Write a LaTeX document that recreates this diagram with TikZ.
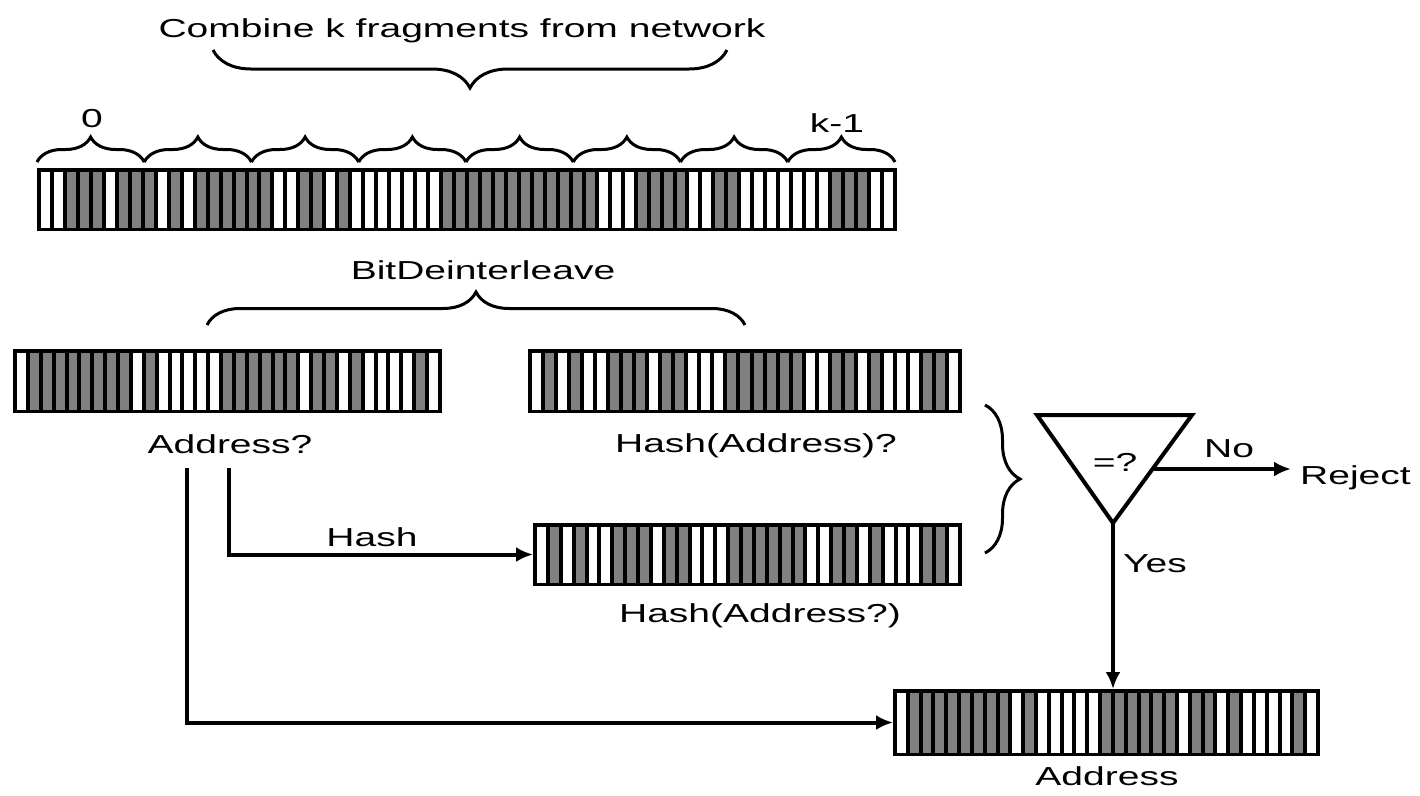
\documentclass[tikz,border=0pt]{standalone}
\usepackage{fontspec}
\newfontfamily\lblfont{Liberation Sans}[FakeStretch=1.5]
\usetikzlibrary{arrows.meta,decorations.pathreplacing,calc}

\definecolor{bitG}{HTML}{808080}
\definecolor{bitW}{HTML}{FFFFFF}

\tikzset{
  lbl/.style={font=\fontsize{26}{30}\lblfont, inner sep=0pt, anchor=base},
  stripframe/.style={fill=black, draw=none, inner sep=0pt, outer sep=0pt},
  conn/.style={line width=4pt, line cap=butt, line join=miter},
  arr/.style={conn, -{Latex[length=17pt,width=15pt]}},
  bracepath/.style={line width=3pt, decorate, decoration={brace, amplitude=#1}},
  tri/.style={line width=4pt, line join=miter},
}

% \bitstrip{name}{x0}{y0}{x1}{y1}{cells}{pattern}
\newcommand\bitstrip[7]{%
  \pgfmathsetmacro\stripw{#4-#2}%
  \pgfmathsetmacro\striph{#5-#3}%
  \pgfmathsetmacro\cellw{(#4-#2-4)/#6}%
  \node[stripframe, minimum width=\stripw pt, minimum height=\striph pt]
    (#1) at ({(#2+#4)/2},{(#3+#5)/2}) {};
  \foreach \c [count=\i] in {#7} {
    \pgfmathsetmacro\xa{#2+2+(\i-1)*\cellw+2}
    \pgfmathsetmacro\xb{#2+2+\i*\cellw-2}
    \fill[bit\c] (\xa,{#3+3.5}) rectangle (\xb,{#5-3.5});
  }%
}

\begin{document}
\begin{tikzpicture}[x=1pt, y=-1pt]
  \useasboundingbox (0,0) rectangle (1420,795);

  % combined fragments
  \node[lbl] (combine) at (462,37) {Combine k fragments from network};
  \draw[bracepath=38] (727,50) -- (213,50);

  \node[lbl] (first) at (92,127) {0};
  \node[lbl] (last) at (837,132) {k-1};
  \foreach \j in {0,...,7} {
    \draw[bracepath=25] ({37+107.25*\j},162) -- ({37+107.25*(\j+1)},162);
  }

  \bitstrip{frag}{37}{168}{897}{231}{66}{W,W,G,G,G,W,G,G,G,W,G,W,G,G,G,G,G,G,W,W,G,G,W,G,W,W,W,W,W,W,W,G,G,G,G,G,G,G,G,G,G,G,G,W,W,W,G,G,G,G,W,W,G,G,W,W,W,W,W,W,W,G,G,G,W,W}

  \node[lbl] (deint) at (483,279) {BitDeinterleave};
  \draw[bracepath=33] (207,325) -- (745,325);

  % deinterleaved halves
  \bitstrip{addrq}{13}{349}{442}{413}{33}{W,G,G,G,G,G,G,G,G,W,G,W,W,W,W,W,G,G,G,G,G,G,W,G,G,W,G,W,W,W,W,G,W}
  \node[lbl] (addrqlbl) at (230,453) {Address?};

  \bitstrip{hasha}{528}{349}{962}{413}{33}{W,G,W,G,W,W,G,G,G,W,G,G,W,W,W,G,G,G,G,G,G,W,W,G,G,W,G,W,W,W,G,G,W}
  \node[lbl] (hashalbl) at (756,452) {Hash(Address)?};

  % recomputed hash
  \bitstrip{hashb}{533}{523}{962}{586}{33}{W,G,W,G,W,W,G,G,G,W,G,G,W,W,W,G,G,G,G,G,G,W,W,G,G,W,G,W,W,W,G,G,W}
  \node[lbl] (hashblbl) at (760,622) {Hash(Address?)};

  \coordinate (hstart) at (229,468);
  \draw[arr] (hstart) |- (hashb.west);
  \node[lbl] (hashlbl) at (372,546) {Hash};

  % comparison
  \draw[bracepath=35] (985,405) -- (985,553);
  \coordinate (t1) at (1037,415);
  \coordinate (t2) at (1192,415);
  \coordinate (t3) at (1113,523);
  \draw[tri] (t1) -- (t2) -- (t3) -- cycle;
  \node[lbl] (cmp) at (1115,471) {=?};

  \coordinate (nostart) at (1153,469);
  \coordinate (noend) at (1291,469);
  \draw[arr] (nostart) -- (noend);
  \node[lbl] (nolbl) at (1229,457) {No};
  \node[lbl, anchor=base west] (reject) at (1300,484) {Reject};

  % accepted address
  \bitstrip{addr}{893}{689}{1320}{756}{33}{W,G,G,G,G,G,G,G,G,W,G,W,W,W,W,W,G,G,G,G,G,G,W,G,G,W,G,W,W,W,W,G,W}
  \node[lbl] (addrlbl) at (1107,785) {Address};

  \draw[arr] (t3) -- (t3 |- addr.north);
  \node[lbl] (yeslbl) at (1155,572) {Yes};

  \coordinate (lstart) at (187,468);
  \draw[arr] (lstart) |- (addr.west);
\end{tikzpicture}
\end{document}
